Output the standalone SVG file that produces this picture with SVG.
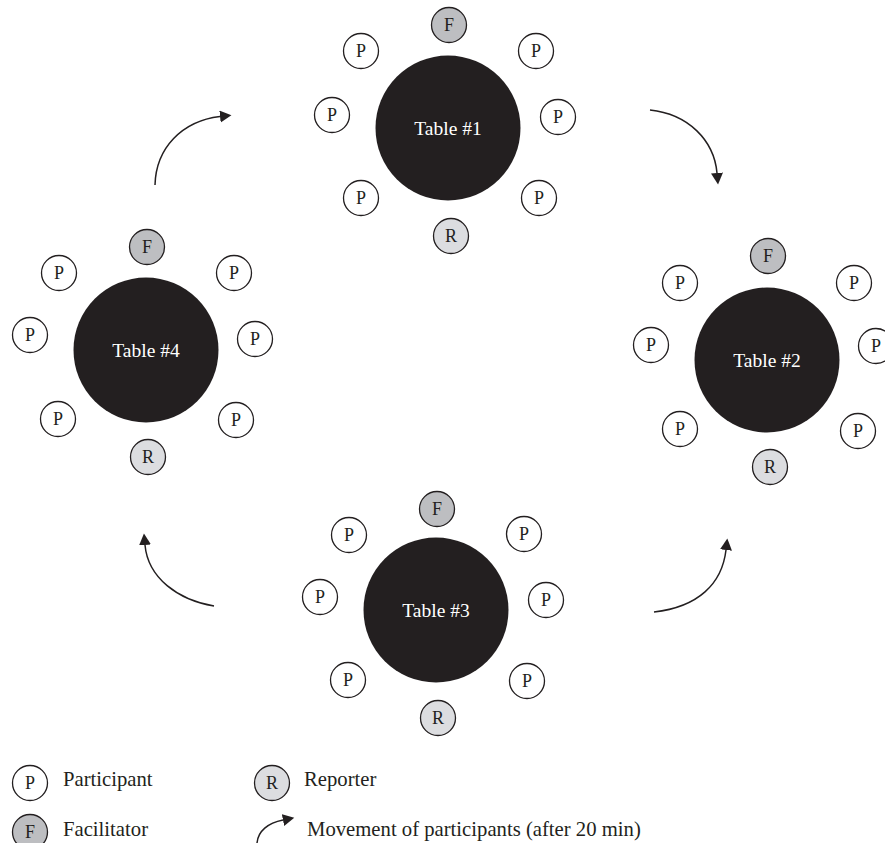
<svg xmlns="http://www.w3.org/2000/svg" width="885" height="843" viewBox="0 0 885 843">
<style>
text{font-family:"Liberation Serif","Times New Roman",serif;}
.tbl{fill:#231f20;}
.tl{fill:#ffffff;font-size:19.5px;text-anchor:middle;}
.p{fill:#ffffff;stroke:#231f20;stroke-width:1.3;}
.f{fill:#bdbec1;stroke:#231f20;stroke-width:1.3;}
.r{fill:#dcdde0;stroke:#231f20;stroke-width:1.3;}
.s{fill:#231f20;font-size:18px;text-anchor:middle;}
.lg{fill:#231f20;font-size:20.7px;}
.arr{fill:none;stroke:#231f20;stroke-width:1.5;marker-end:url(#ah);}
</style>
<defs>
<marker id="ah" markerUnits="userSpaceOnUse" markerWidth="12" markerHeight="13" refX="0" refY="6" orient="auto">
<path d="M0,0 L11.5,6 L0,12 z" fill="#231f20"/>
</marker>
</defs>
<rect width="885" height="843" fill="#ffffff"/>

<g id="table1">
<circle class="tbl" cx="448" cy="128" r="72.5"/>
<text class="tl" x="448" y="134.5">Table #1</text>
<circle class="f" cx="449" cy="25" r="17.5"/><text class="s" x="449" y="31">F</text>
<circle class="p" cx="361" cy="51" r="17.5"/><text class="s" x="361" y="57">P</text>
<circle class="p" cx="536" cy="51" r="17.5"/><text class="s" x="536" y="57">P</text>
<circle class="p" cx="332" cy="115" r="17.5"/><text class="s" x="332" y="121">P</text>
<circle class="p" cx="558" cy="117" r="17.5"/><text class="s" x="558" y="123">P</text>
<circle class="p" cx="361" cy="198" r="17.5"/><text class="s" x="361" y="204">P</text>
<circle class="p" cx="539" cy="198" r="17.5"/><text class="s" x="539" y="204">P</text>
<circle class="r" cx="451" cy="236" r="17.5"/><text class="s" x="451" y="242">R</text>
</g>

<g id="table2">
<circle class="tbl" cx="767" cy="360" r="72.5"/>
<text class="tl" x="767" y="366.5">Table #2</text>
<circle class="f" cx="768" cy="256" r="17.5"/><text class="s" x="768" y="262">F</text>
<circle class="p" cx="680" cy="283" r="17.5"/><text class="s" x="680" y="289">P</text>
<circle class="p" cx="854" cy="283" r="17.5"/><text class="s" x="854" y="289">P</text>
<circle class="p" cx="651" cy="345" r="17.5"/><text class="s" x="651" y="351">P</text>
<circle class="p" cx="876" cy="346" r="17.5"/><text class="s" x="876" y="352">P</text>
<circle class="p" cx="680" cy="429" r="17.5"/><text class="s" x="680" y="435">P</text>
<circle class="p" cx="858" cy="431" r="17.5"/><text class="s" x="858" y="437">P</text>
<circle class="r" cx="770" cy="467" r="17.5"/><text class="s" x="770" y="473">R</text>
</g>

<g id="table3">
<circle class="tbl" cx="436" cy="610" r="72.5"/>
<text class="tl" x="436" y="616.5">Table #3</text>
<circle class="f" cx="437" cy="509" r="17.5"/><text class="s" x="437" y="515">F</text>
<circle class="p" cx="349" cy="535" r="17.5"/><text class="s" x="349" y="541">P</text>
<circle class="p" cx="524" cy="534" r="17.5"/><text class="s" x="524" y="540">P</text>
<circle class="p" cx="320" cy="597" r="17.5"/><text class="s" x="320" y="603">P</text>
<circle class="p" cx="546" cy="600" r="17.5"/><text class="s" x="546" y="606">P</text>
<circle class="p" cx="348" cy="680" r="17.5"/><text class="s" x="348" y="686">P</text>
<circle class="p" cx="527" cy="681" r="17.5"/><text class="s" x="527" y="687">P</text>
<circle class="r" cx="438" cy="718" r="17.5"/><text class="s" x="438" y="724">R</text>
</g>

<g id="table4">
<circle class="tbl" cx="146" cy="350" r="72.5"/>
<text class="tl" x="146" y="356.5">Table #4</text>
<circle class="f" cx="147" cy="247" r="17.5"/><text class="s" x="147" y="253">F</text>
<circle class="p" cx="59" cy="273" r="17.5"/><text class="s" x="59" y="279">P</text>
<circle class="p" cx="234" cy="273" r="17.5"/><text class="s" x="234" y="279">P</text>
<circle class="p" cx="30" cy="335" r="17.5"/><text class="s" x="30" y="341">P</text>
<circle class="p" cx="255" cy="339" r="17.5"/><text class="s" x="255" y="345">P</text>
<circle class="p" cx="58" cy="419" r="17.5"/><text class="s" x="58" y="425">P</text>
<circle class="p" cx="236" cy="420" r="17.5"/><text class="s" x="236" y="426">P</text>
<circle class="r" cx="148" cy="457" r="17.5"/><text class="s" x="148" y="463">R</text>
</g>

<g id="connectors">
<path class="arr" d="M155,185 C156,148 182,121 220,116.5"/>
<path class="arr" d="M650,110 C688,114 714,140 717,173"/>
<path class="arr" d="M654,612 C698,607 722,584 726,550"/>
<path class="arr" d="M214,606 C178,600 148,578 145,545"/>
</g>

<g id="legend">
<circle class="p" cx="30" cy="783" r="17.5"/><text class="s" x="30" y="789">P</text>
<text class="lg" x="63" y="786">Participant</text>
<circle class="f" cx="30" cy="832" r="17.5"/><text class="s" x="30" y="838">F</text>
<text class="lg" x="63" y="836">Facilitator</text>
<circle class="r" cx="272" cy="783" r="17.5"/><text class="s" x="272" y="789">R</text>
<text class="lg" x="304" y="786">Reporter</text>
<path class="arr" d="M257,843 C258,831 268,823 283,820"/>
<text class="lg" x="307" y="836">Movement of participants (after 20 min)</text>
</g>
</svg>
